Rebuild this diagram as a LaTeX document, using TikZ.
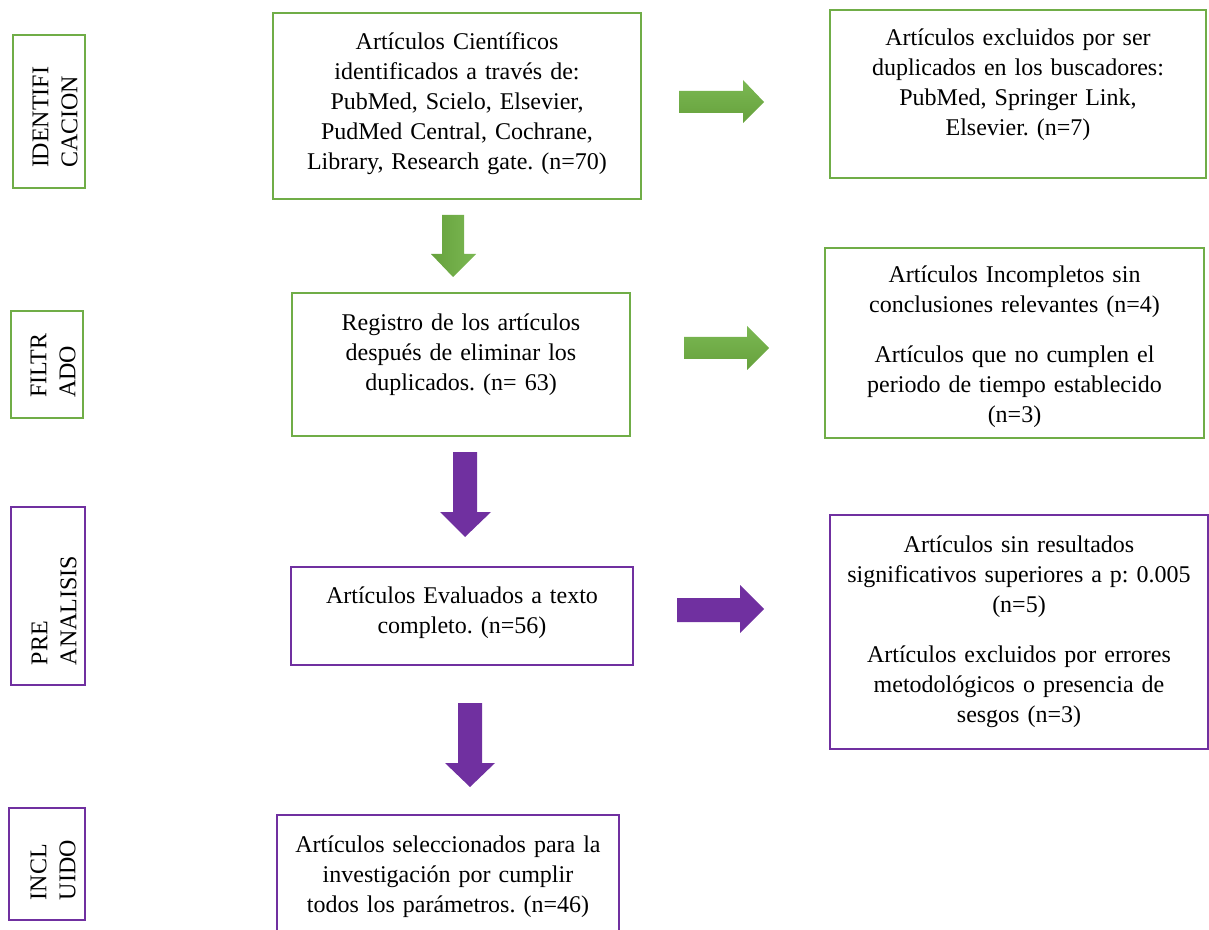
\documentclass[tikz,border=0pt]{standalone}
\usepackage{fontspec}
\setmainfont{Liberation Serif}
\frenchspacing
\newcommand{\boxpad}[1]{\rule[-#1]{0pt}{#1}}
\newcommand{\toppad}[1]{\rule{0pt}{#1}}

\begin{document}
\begin{tikzpicture}[x=0.5pt,y=-0.5pt,
  box/.style={draw=#1, line width=1pt, align=center, inner sep=0pt,
    font=\fontsize{12}{15}\selectfont},
  sidebox/.style={draw=#1, line width=1pt, rotate=90, align=left,
    inner xsep=10pt, inner ysep=0pt, font=\fontsize{12}{14.5}\selectfont}]
% Colors define
\definecolor{myGreen}{HTML}{70AD47}
\definecolor{myGreenLight}{HTML}{7BB853}
\definecolor{myGreenDark}{HTML}{66A13C}
\definecolor{myPurple}{HTML}{7030A0}

\useasboundingbox (0,0) rectangle (1209,930);

% Stage labels on the left
\node[sidebox=myGreen, minimum width=76.5pt, minimum height=36pt, text width=56.5pt] (ident) at (49,111.5) {\toppad{14pt}IDENTIFI\\CACION};
\node[sidebox=myGreen, minimum width=53.5pt, minimum height=36pt, text width=33.5pt] (filt) at (47,364.5) {\toppad{14pt}FILTR\\ADO};
\node[sidebox=myPurple, minimum width=89pt, minimum height=37pt, text width=69pt] (pre) at (48,596) {\toppad{14pt}PRE\\ANALISIS};
\node[sidebox=myPurple, minimum width=56pt, minimum height=38pt, text width=36pt] (incl) at (47,864) {\toppad{14pt}INCL\\UIDO};

% Main column
\node[box=myGreen, text width=184pt, minimum height=93pt] (found) at (457,106)
  {Artículos Científicos\\identificados a través de:\\PubMed, Scielo, Elsevier,\\PudMed Central, Cochrane,\\Library, Research gate. (n=70)\boxpad{5pt}};
\node[box=myGreen, text width=169pt, minimum height=71.5pt] (clean) at (461,364.5)
  {Registro de los artículos\\después de eliminar los\\duplicados. (n= 63)\boxpad{12pt}};
\node[box=myPurple, text width=171pt, minimum height=49pt] (full) at (462,616)
  {Artículos Evaluados a texto\\completo. (n=56)\boxpad{6pt}};
\node[box=myPurple, text width=171pt, minimum height=58pt] (final) at (448,873)
  {\toppad{12pt}Artículos seleccionados para la\\investigación por cumplir\\todos los parámetros. (n=46)};

% Excluded column
\node[box=myGreen, text width=188pt, minimum height=84pt] (dupl) at (1018,94)
  {Artículos excluidos por ser\\duplicados en los buscadores:\\PubMed, Springer Link,\\Elsevier. (n=7)\boxpad{12pt}};
\node[box=myGreen, text width=189.5pt, minimum height=95pt] (incomp) at (1014.5,343)
  {\toppad{12pt}Artículos Incompletos sin\\conclusiones relevantes (n=4)\\[10pt]Artículos que no cumplen el\\periodo de tiempo establecido\\(n=3)};
\node[box=myPurple, text width=189pt, minimum height=117pt] (nosig) at (1019,632)
  {Artículos sin resultados\\significativos superiores a p: 0.005\\(n=5)\\[10pt]Artículos excluidos por errores\\metodológicos o presencia de\\sesgos (n=3)};

% Green block arrows
\shade[left color=myGreenDark, right color=myGreenLight] (442,215) -- (464,215) -- (464,254) -- (476,254) -- (453,277) -- (431,254) -- (442,254) -- cycle;
\shade[top color=myGreenLight, bottom color=myGreenDark] (679,91) -- (743,91) -- (743,80) -- (764,102) -- (743,123) -- (743,113) -- (679,113) -- cycle;
\shade[top color=myGreenLight, bottom color=myGreenDark] (684,337) -- (747,337) -- (747,326) -- (769,348) -- (747,370) -- (747,359) -- (684,359) -- cycle;

% Purple block arrows
\fill[myPurple] (453,452) -- (477,452) -- (477,512) -- (491,512) -- (465,537) -- (440,512) -- (453,512) -- cycle;
\fill[myPurple] (677,598) -- (740,598) -- (740,585) -- (764,609) -- (740,633) -- (740,622) -- (677,622) -- cycle;
\fill[myPurple] (458,703) -- (482,703) -- (482,763) -- (495,763) -- (470,787) -- (445,763) -- (458,763) -- cycle;
\end{tikzpicture}
\end{document}
